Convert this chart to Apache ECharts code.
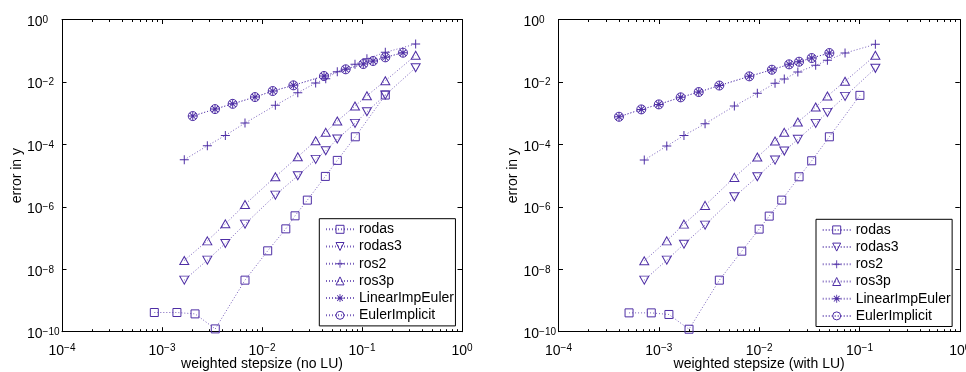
<!DOCTYPE html>
<html><head><meta charset="utf-8">
<script src="https://cdn.jsdelivr.net/npm/echarts@6/dist/echarts.min.js"></script>
<style>html,body{margin:0;padding:0;background:#fff}#c{width:966px;height:372px}</style>
</head><body><div id="c"></div>
<script>
// ---------- data ----------
const seriesNames = ['rodas', 'rodas3', 'ros2', 'ros3p', 'LinearImpEuler', 'EulerImplicit'];

// Left panel: "no LU"
const L_euler_x = [2.03e-3, 3.39e-3, 5.09e-3, 8.51e-3, 1.28e-2, 2.06e-2, 4.17e-2, 6.87e-2, 0.103, 0.129, 0.171, 0.257];
const L_euler_y = [8.07e-4, 1.35e-3, 1.99e-3, 3.28e-3, 5.11e-3, 7.78e-3, 1.55e-2, 2.54e-2, 3.75e-2, 4.68e-2, 6.14e-2, 8.63e-2];
const L_ros_x = [1.67e-3, 2.84e-3, 4.30e-3, 6.76e-3, 1.36e-2, 2.28e-2, 3.44e-2, 4.34e-2, 5.66e-2, 8.51e-2, 0.112, 0.171, 0.344];
const L_ros2_y = [3.21e-5, 9.02e-5, 1.94e-4, 4.82e-4, 1.78e-3, 4.51e-3, 9.22e-3, 1.27e-2, 2.12e-2, 3.66e-2, 5.54e-2, 8.89e-2, 0.164];
const L_ros3p_y = [1.91e-8, 8.13e-8, 2.85e-7, 1.19e-6, 9.16e-6, 4.01e-5, 1.30e-4, 2.43e-4, 5.58e-4, 1.69e-3, 3.61e-3, 1.09e-2, 7.12e-2];
const L_rodas3_y = [4.48e-9, 1.96e-8, 6.71e-8, 2.79e-7, 2.37e-6, 9.86e-6, 3.31e-5, 6.24e-5, 1.48e-4, 4.71e-4, 1.11e-3, 3.80e-3, 2.85e-2];
const L_rodas_x = [8.38e-4, 1.41e-3, 2.14e-3, 3.41e-3, 6.76e-3, 1.14e-2, 1.73e-2, 2.14e-2, 2.84e-2, 4.30e-2, 5.66e-2, 8.57e-2, 0.171];
const L_rodas_y = [4.12e-10, 4.12e-10, 3.72e-10, 1.23e-10, 4.48e-9, 3.89e-8, 1.97e-7, 5.15e-7, 1.64e-6, 9.42e-6, 3.07e-5, 1.75e-4, 3.80e-3];

// Right panel: "with LU"
const R_euler_x = [4.01e-4, 6.69e-4, 1.00e-3, 1.65e-3, 2.50e-3, 4.01e-3, 7.98e-3, 1.34e-2, 1.99e-2, 2.50e-2, 3.34e-2, 5.01e-2];
const R_euler_y = [7.67e-4, 1.32e-3, 1.91e-3, 3.21e-3, 4.75e-3, 7.67e-3, 1.51e-2, 2.46e-2, 3.66e-2, 4.44e-2, 5.83e-2, 8.44e-2];
const R_ros_x = [7.16e-4, 1.20e-3, 1.78e-3, 2.89e-3, 5.66e-3, 9.59e-3, 1.44e-2, 1.78e-2, 2.43e-2, 3.66e-2, 4.79e-2, 7.18e-2, 0.144];
const R_ros2_y = [3.14e-5, 8.83e-5, 1.94e-4, 4.57e-4, 1.69e-3, 4.31e-3, 9.02e-3, 1.24e-2, 2.08e-2, 3.40e-2, 4.92e-2, 8.44e-2, 0.160];
const R_ros3p_y = [1.86e-8, 8.13e-8, 2.79e-7, 1.11e-6, 8.75e-6, 3.92e-5, 1.28e-4, 2.43e-4, 5.19e-4, 1.57e-3, 3.53e-3, 1.05e-2, 7.12e-2];
const R_rodas3_y = [4.48e-9, 1.96e-8, 6.37e-8, 2.59e-7, 2.09e-6, 9.16e-6, 3.14e-5, 6.10e-5, 1.45e-4, 4.71e-4, 1.06e-3, 3.45e-3, 2.73e-2];
const R_rodas_x = [5.05e-4, 8.41e-4, 1.26e-3, 2.00e-3, 4.01e-3, 6.71e-3, 1.00e-2, 1.26e-2, 1.68e-2, 2.50e-2, 3.34e-2, 5.01e-2, 0.101];
const R_rodas_y = [4.01e-10, 4.01e-10, 3.56e-10, 1.20e-10, 4.48e-9, 3.80e-8, 1.93e-7, 5.04e-7, 1.64e-6, 9.16e-6, 2.98e-5, 1.75e-4, 3.72e-3];

// axis ticks / labels
const xTickVals = [1e-4, 1e-3, 1e-2, 1e-1, 1];
const xTickExps = ['\u22124', '\u22123', '\u22122', '\u22121', '0'];
const xMinorVals = [2e-4,3e-4,4e-4,5e-4,6e-4,7e-4,8e-4,9e-4, 2e-3,3e-3,4e-3,5e-3,6e-3,7e-3,8e-3,9e-3,
                    2e-2,3e-2,4e-2,5e-2,6e-2,7e-2,8e-2,9e-2, 2e-1,3e-1,4e-1,5e-1,6e-1,7e-1,8e-1,9e-1];
const yTickVals = [1e-10, 1e-8, 1e-6, 1e-4, 1e-2, 1];
const yTickExps = ['\u221210', '\u22128', '\u22126', '\u22124', '\u22122', '0'];
const xNames = ['weighted stepsize (no LU)', 'weighted stepsize (with LU)'];
const yName = 'error in y';

// ---------- styling ----------
const PURPLE = '#4e2ea5';
const FONT = '"Liberation Sans", Arial, Helvetica, sans-serif';
const grids = [
  {left: 62, top: 19.5, width: 400, height: 312.2, containLabel: false, outerBoundsMode: 'none'},
  {left: 558.5, top: 19.5, width: 401.3, height: 312.2, containLabel: false, outerBoundsMode: 'none'}
];
const rich = {
  b: {fontSize: 14, fontFamily: FONT, color: '#000', lineHeight: 14, verticalAlign: 'bottom'},
  s: {fontSize: 10, fontFamily: FONT, color: '#000', lineHeight: 10, verticalAlign: 'top', padding: [0, 0, 7, 0]}
};
function fmt(vals, exps) {
  return function (v) {
    const i = vals.findIndex(t => Math.abs(Math.log10(t) - Math.log10(v)) < 1e-6);
    return i < 0 ? '' : '{b|10}{s|' + exps[i] + '}';
  };
}
const PLUS = 'path://M4.45,0h1.1v10h-1.1z M0,4.45h10v1.1h-10z';
const STAR = 'path://M4.45,0h1.1v10h-1.1z M0,4.45h10v1.1h-10z M1.85,1.07L8.93,8.15L8.15,8.93L1.07,1.85z M8.15,1.07L8.93,1.85L1.85,8.93L1.07,8.15z';

const xAxes = [], yAxes = [];
grids.forEach((g, gi) => {
  const base = {type: 'log', logBase: 10, min: 1e-4, max: 1, gridIndex: gi, splitLine: {show: false}, minorTick: {show: false}};
  xAxes.push(Object.assign({}, base, {
    position: 'bottom',
    axisLine: {show: true, onZero: false, lineStyle: {color: '#000', width: 1}},
    axisTick: {show: true, inside: true, length: 4.5, customValues: xTickVals, lineStyle: {color: '#000'}},
    axisLabel: {show: true, customValues: xTickVals, formatter: fmt(xTickVals, xTickExps), rich: rich,
                margin: 6, align: 'center', padding: [6, 0, 0, 0]},
    name: xNames[gi], nameLocation: 'middle', nameGap: 25, nameMoveOverlap: false,
    nameTextStyle: {fontSize: 14, fontFamily: FONT, color: '#000'}
  }));
  xAxes.push(Object.assign({}, base, {
    position: 'top',
    axisLine: {show: true, onZero: false, lineStyle: {color: '#000', width: 1}},
    axisTick: {show: true, inside: true, length: 4.5, customValues: xTickVals, lineStyle: {color: '#000'}},
    axisLabel: {show: false}
  }));
  // minor tick axes (one lands at bottom, one at top)
  xAxes.push(Object.assign({}, base, {
    position: 'top',
    axisLine: {show: false, onZero: false},
    axisTick: {show: true, inside: true, length: 2.5, customValues: xMinorVals, lineStyle: {color: '#000'}},
    axisLabel: {show: false}
  }));
  xAxes.push(Object.assign({}, base, {
    position: 'bottom',
    axisLine: {show: false, onZero: false},
    axisTick: {show: true, inside: true, length: 2.5, customValues: xMinorVals, lineStyle: {color: '#000'}},
    axisLabel: {show: false}
  }));
  const ybase = {type: 'log', logBase: 10, min: 1e-10, max: 1, gridIndex: gi, splitLine: {show: false}, minorTick: {show: false}};
  yAxes.push(Object.assign({}, ybase, {
    position: 'left',
    axisLine: {show: true, onZero: false, lineStyle: {color: '#000', width: 1}},
    axisTick: {show: true, inside: true, length: 4.5, customValues: yTickVals, lineStyle: {color: '#000'}},
    axisLabel: {show: true, customValues: yTickVals, formatter: fmt(yTickVals, yTickExps), rich: rich,
                margin: 35, align: 'left', padding: [5, 0, 0, 0]},
    name: yName, nameLocation: 'middle', nameGap: 38, nameMoveOverlap: false,
    nameTextStyle: {fontSize: 14, fontFamily: FONT, color: '#000'}
  }));
  yAxes.push(Object.assign({}, ybase, {
    position: 'right',
    axisLine: {show: true, onZero: false, lineStyle: {color: '#000', width: 1}},
    axisTick: {show: true, inside: true, length: 4.5, customValues: yTickVals, lineStyle: {color: '#000'}},
    axisLabel: {show: false}
  }));
});

const marks = {
  rodas:          {symbol: 'rect', size: 8, rotate: 0, hollow: true},
  rodas3:         {symbol: 'triangle', size: [9, 8], rotate: 180, hollow: true},
  ros2:           {symbol: PLUS, size: 9, rotate: 0, hollow: false},
  ros3p:          {symbol: 'triangle', size: [9, 8], rotate: 0, hollow: true},
  LinearImpEuler: {symbol: STAR, size: 9, rotate: 0, hollow: false},
  EulerImplicit:  {symbol: 'circle', size: 9, rotate: 0, hollow: true}
};
function mk(name, xs, ys, gi) {
  const m = marks[name];
  return {
    type: 'line', name: name, xAxisIndex: gi * 4, yAxisIndex: gi * 2,
    data: xs.map((x, i) => [x, ys[i]]),
    symbol: m.symbol, symbolSize: m.size, symbolRotate: m.rotate,
    showSymbol: true, showAllSymbol: true, clip: false, silent: true,
    lineStyle: {type: [1, 2], width: 1, color: PURPLE, opacity: 0.75},
    itemStyle: m.hollow ? {color: 'rgba(0,0,0,0)', borderColor: PURPLE, borderWidth: 1}
                        : {color: PURPLE, borderColor: PURPLE, borderWidth: 0},
    emphasis: {disabled: true}
  };
}
const series = [
  mk('rodas', L_rodas_x, L_rodas_y, 0),
  mk('rodas3', L_ros_x, L_rodas3_y, 0),
  mk('ros2', L_ros_x, L_ros2_y, 0),
  mk('ros3p', L_ros_x, L_ros3p_y, 0),
  mk('LinearImpEuler', L_euler_x, L_euler_y, 0),
  mk('EulerImplicit', L_euler_x, L_euler_y, 0),
  mk('rodas', R_rodas_x, R_rodas_y, 1),
  mk('rodas3', R_ros_x, R_rodas3_y, 1),
  mk('ros2', R_ros_x, R_ros2_y, 1),
  mk('ros3p', R_ros_x, R_ros3p_y, 1),
  mk('LinearImpEuler', R_euler_x, R_euler_y, 1),
  mk('EulerImplicit', R_euler_x, R_euler_y, 1)
];
function legendAt(left, top) {
  return {
    left: left, top: top, orient: 'vertical',
    data: seriesNames.map(n => ({name: n, itemStyle: {borderWidth: marks[n].hollow ? 1 : 0}})),
    itemWidth: 28, itemHeight: 10, itemGap: 3.2,
    padding: [3.6, 1.5, 3.6, 5.7],
    borderColor: '#000', borderWidth: 1, backgroundColor: '#fff',
    selectedMode: false,
    textStyle: {fontSize: 14, fontFamily: FONT, color: '#000'}
  };
}
const chart = echarts.init(document.getElementById('c'), null, {renderer: 'canvas'});
chart.setOption({
  animation: false,
  backgroundColor: '#fff',
  grid: grids,
  xAxis: xAxes,
  yAxis: yAxes,
  legend: [legendAt(319.3, 218.7), legendAt(816, 219.3)],
  series: series
});
</script>
</body></html>
